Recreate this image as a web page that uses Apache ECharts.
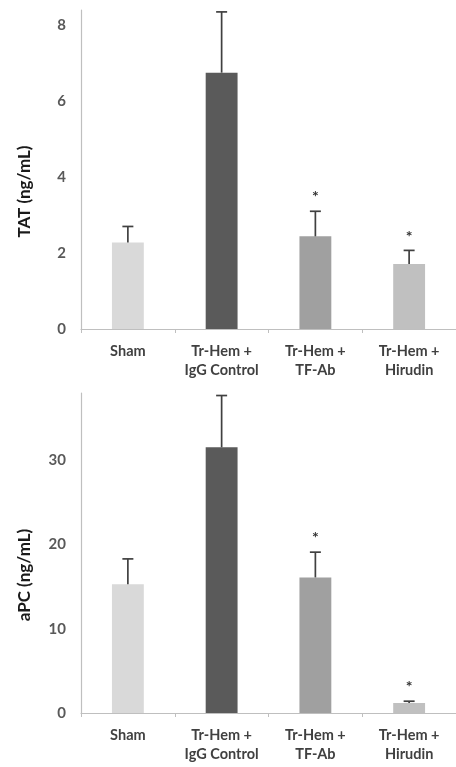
<!DOCTYPE html>
<html><head><meta charset="utf-8">
<script src="https://cdn.jsdelivr.net/npm/echarts@6/dist/echarts.min.js"></script>
<style>html,body{margin:0;padding:0;background:#fff}#c{width:456px;height:767px}</style>
</head><body><div id="c"></div>
<script>
var categories = ['Sham', 'Tr-Hem +\nIgG Control', 'Tr-Hem +\nTF-Ab', 'Tr-Hem +\nHirudin'];
var barColors = ['#d9d9d9', '#5a5a5a', '#a0a0a0', '#c0c0c0'];
var tatMean = [2.28, 6.75, 2.44, 1.71];
var tatUpper = [2.70, 8.35, 3.10, 2.07];
var apcMean = [15.3, 31.55, 16.1, 1.2];
var apcUpper = [18.3, 37.7, 19.1, 1.4];
var significant = [false, false, true, true];
var tatTicks = {min: 0, max: 8.4, interval: 2};
var apcTicks = {min: 0, max: 38, interval: 10};

var font = 'Lato, "Open Sans", sans-serif';
var chart = echarts.init(document.getElementById('c'));

function errSeries(idx, upper, mean) {
  return {
    type: 'custom', xAxisIndex: idx, yAxisIndex: idx, z: 5,
    data: upper.map(function (u, i) { return [i, mean[i], u, significant[i] ? 1 : 0]; }),
    renderItem: function (params, api) {
      var i = api.value(0);
      var p0 = api.coord([i, api.value(1)]);
      var p1 = api.coord([i, api.value(2)]);
      var children = [
        {type: 'line', shape: {x1: p0[0], y1: p0[1], x2: p1[0], y2: p1[1]}, style: {stroke: '#404040', lineWidth: 1.7}},
        {type: 'line', shape: {x1: p1[0] - 5.5, y1: p1[1], x2: p1[0] + 5.5, y2: p1[1]}, style: {stroke: '#404040', lineWidth: 1.7}}
      ];
      if (api.value(3)) {
        children.push({type: 'text', style: {text: '*', x: p1[0], y: p1[1] - 14, align: 'center', verticalAlign: 'middle', fill: '#333', font: 'bold 16px ' + font}});
      }
      return {type: 'group', children: children};
    }
  };
}

function yAx(idx, t, name) {
  return {
    type: 'value', gridIndex: idx, min: t.min, max: t.max, interval: t.interval,
    name: name, nameLocation: 'middle', nameGap: 48, nameRotate: 90,
    nameTextStyle: {fontFamily: font, fontWeight: 'bold', fontSize: 17, color: '#1a1a1a', padding: [0, 44, 0, 0]},
    axisLine: {show: true, lineStyle: {color: '#bfbfbf', width: 1.2}},
    axisTick: {show: false},
    splitLine: {show: false},
    axisLabel: {fontFamily: font, fontWeight: 'bold', fontSize: 15, color: '#595959', margin: 15, showMaxLabel: false}
  };
}
function xAx(idx) {
  return {
    type: 'category', gridIndex: idx, data: categories,
    axisLine: {lineStyle: {color: '#bfbfbf', width: 1.2}},
    axisTick: {show: true, length: 4, lineStyle: {color: '#bfbfbf'}},
    axisLabel: {fontFamily: font, fontWeight: 'bold', fontSize: 14.5, color: '#404040', margin: 13, lineHeight: 19, interval: 0}
  };
}

chart.setOption({
  animation: false,
  grid: [
    {left: 81, right: 0, top: 10, height: 319},
    {left: 81, right: 0, top: 393, height: 320}
  ],
  xAxis: [xAx(0), xAx(1)],
  yAxis: [yAx(0, tatTicks, 'TAT (ng/mL)'), yAx(1, apcTicks, 'aPC (ng/mL)')],
  series: [
    {type: 'bar', xAxisIndex: 0, yAxisIndex: 0, barWidth: '34%',
     data: tatMean.map(function (v, i) { return {value: v, itemStyle: {color: barColors[i]}}; })},
    errSeries(0, tatUpper, tatMean),
    {type: 'bar', xAxisIndex: 1, yAxisIndex: 1, barWidth: '34%',
     data: apcMean.map(function (v, i) { return {value: v, itemStyle: {color: barColors[i]}}; })},
    errSeries(1, apcUpper, apcMean)
  ]
});
</script></body></html>
